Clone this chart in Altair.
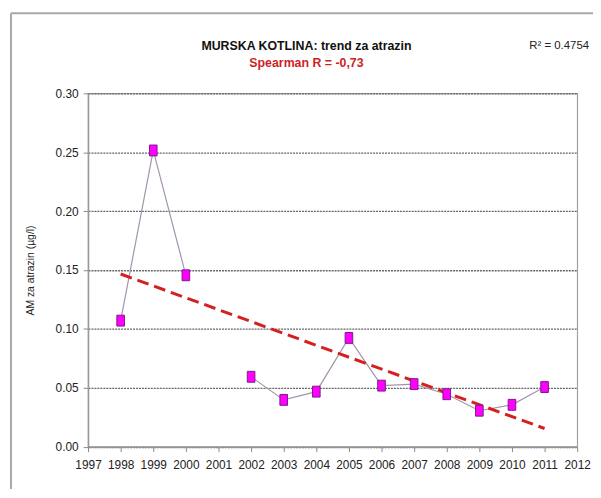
import altair as alt
import pandas as pd

# --- data ---
years = [1998, 1999, 2000, 2002, 2003, 2004, 2005, 2006, 2007, 2008, 2009, 2010, 2011]
values = [0.107, 0.2515, 0.1455, 0.0593, 0.0397, 0.0467, 0.0923, 0.0518, 0.0531, 0.0445, 0.0305, 0.0355, 0.0506]
segments = [1, 1, 1, 2, 2, 2, 2, 2, 2, 2, 2, 2, 2]   # line is broken at 2001 (no value)
trend_years = [1998, 2011]
trend_values = [0.1466, 0.0154]
x_ticks = list(range(1997, 2013))
y_ticks = [0.0, 0.05, 0.10, 0.15, 0.20, 0.25, 0.30]

title_text = "MURSKA KOTLINA: trend za atrazin"
subtitle_text = "Spearman R = -0,73"
r2_text = "R² = 0.4754"
y_title = "AM za atrazin (µg/l)"

FONT = "Liberation Sans, Arial, Helvetica, sans-serif"

df = pd.DataFrame({"year": years, "value": values, "seg": segments})
trend = pd.DataFrame({"year": trend_years, "value": trend_values})

W, H = 495, 357.5

xs = alt.Scale(domain=[1997, 2012], nice=False, zero=False)
ys = alt.Scale(domain=[0, 0.30], nice=False)

x_axis = alt.Axis(values=x_ticks, format="d", title=None, grid=False,
                  labelOverlap=False, labelFlush=False, labelPadding=8)
y_axis = alt.Axis(values=y_ticks, format=".2f", title=y_title,
                  grid=True, labelPadding=5,
                  titleX=-58, titleY=H / 2, titleAngle=270,
                  titleAlign="center", titleBaseline="middle")

base = alt.Chart(df)

line = base.mark_line(color="#a593ad", strokeWidth=1.2).encode(
    x=alt.X("year:Q", scale=xs, axis=x_axis),
    y=alt.Y("value:Q", scale=ys, axis=y_axis),
    detail="seg:N",
)

trend_line = alt.Chart(trend).mark_line(color="#d42020", strokeWidth=3,
                                        strokeDash=[12, 6]).encode(
    x=alt.X("year:Q", scale=xs, axis=x_axis),
    y=alt.Y("value:Q", scale=ys, axis=y_axis),
)

points = base.mark_point(shape="M-0.7,-1L0.7,-1L0.7,1L-0.7,1Z", size=121,
                         filled=True, fill="#ff00ff", stroke="#7a1a8a",
                         strokeWidth=1, opacity=1).encode(
    x=alt.X("year:Q", scale=xs, axis=x_axis),
    y=alt.Y("value:Q", scale=ys, axis=y_axis),
)

anno = pd.DataFrame({"t": [title_text]})
title_mark = alt.Chart(anno).mark_text(
    text=title_text, font=FONT, fontSize=12.5, fontWeight="bold", color="#111",
    align="center", baseline="middle").encode(x=alt.value(221), y=alt.value(-48))
sub_mark = alt.Chart(anno).mark_text(
    text=subtitle_text, font=FONT, fontSize=12.5, fontWeight="bold", color="#cc1f1f",
    align="center", baseline="middle").encode(x=alt.value(221), y=alt.value(-31))
r2_mark = alt.Chart(anno).mark_text(
    text=r2_text, font=FONT, fontSize=11.5, color="#222",
    align="right", baseline="middle").encode(x=alt.value(507), y=alt.value(-48))

frame_top = alt.Chart(anno).mark_rule(color="#a8a8a8", strokeWidth=2).encode(
    x=alt.value(-78), x2=alt.value(W + 20), y=alt.value(-81))
frame_left = alt.Chart(anno).mark_rule(color="#a8a8a8", strokeWidth=2).encode(
    x=alt.value(-78), y=alt.value(-81), y2=alt.value(H + 60))

chart = alt.layer(line, trend_line, points, title_mark, sub_mark, r2_mark,
                  frame_top, frame_left).properties(
    width=W, height=H,
    autosize=alt.AutoSizeParams(type="none"),
    padding={"left": 81, "top": 83.5, "right": 16, "bottom": 40},
    background="white",
).configure_view(stroke="#a0a0a0", strokeWidth=1.2).configure_axis(
    labelFont=FONT, labelFontSize=12, labelColor="#222",
    tickSize=5, tickColor="#888", domainColor="#999", domainWidth=1.5,
    gridColor="#666", gridDash=[2, 1], gridWidth=1.3,
    titleFont=FONT, titleFontSize=10.5, titleFontWeight="normal", titleColor="#222",
).configure_axisX(labelOverlap=False, labelFlush=False, labelPadding=8)

chart.save("out.html", embed_options={"renderer": "svg", "actions": False})
